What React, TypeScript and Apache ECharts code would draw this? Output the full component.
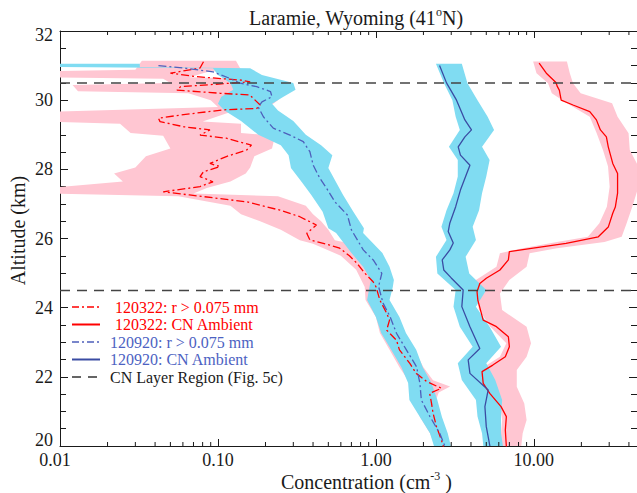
import React, { useEffect, useRef } from "react";
import * as echarts from "echarts";

// ---------- data ----------
// 120322: r > 0.075 mm (red dash-dot) centre line
const r22Alt = [31.11, 30.93, 30.78, 30.68, 30.58, 30.53, 30.39, 30.29, 30.2, 30.15, 29.86, 29.76, 29.72, 29.57, 29.48, 29.38, 29.23, 29.14, 28.99, 28.9, 28.7, 28.56, 28.37, 28.17, 28.08, 27.93, 27.79, 27.64, 27.5, 27.35, 27.26, 27.06, 26.82, 26.63, 26.39, 26.15, 25.96, 25.81, 25.72, 25.5, 25.28, 25.0, 24.75, 24.61, 24.22, 23.84, 23.64, 23.35, 23.06, 22.78, 22.39, 22.1, 21.86, 21.67, 21.52, 21.24, 20.95, 20.56, 20.17, 19.98];
const r22Val = [0.081, 0.077, 0.05, 0.073, 0.14, 0.16, 0.058, 0.055, 0.103, 0.159, 0.185, 0.176, 0.108, 0.058, 0.042, 0.043, 0.061, 0.089, 0.077, 0.113, 0.163, 0.152, 0.113, 0.089, 0.103, 0.081, 0.077, 0.093, 0.077, 0.045, 0.066, 0.152, 0.247, 0.33, 0.42, 0.365, 0.382, 0.51, 0.59, 0.68, 0.76, 0.85, 0.96, 1.0, 1.06, 1.17, 1.22, 1.17, 1.35, 1.41, 1.64, 1.8, 2.1, 2.6, 2.19, 2.25, 2.3, 2.42, 2.6, 2.68];
// its uncertainty band
const r22BandAlt = [31.14, 30.88, 30.84, 30.66, 30.62, 30.5, 30.44, 30.26, 30.2, 30.0, 29.8, 29.66, 29.38, 29.32, 29.05, 28.97, 28.6, 28.38, 28.05, 27.88, 27.65, 27.46, 27.3, 27.22, 26.95, 26.7, 26.5, 26.25, 25.95, 25.85, 25.5, 25.1, 24.6, 24.22, 23.73, 23.27, 22.78, 22.28, 21.9, 21.72, 21.55, 21.33, 20.84, 20.37, 19.95];
const r22BandLo = [0.033, 0.03, 0.0085, 0.0085, 0.045, 0.05, 0.012, 0.013, 0.065, 0.09, 0.1, 0.0085, 0.0085, 0.024, 0.028, 0.045, 0.05, 0.035, 0.03, 0.022, 0.025, 0.0085, 0.0085, 0.056, 0.12, 0.14, 0.185, 0.25, 0.33, 0.4, 0.6, 0.75, 0.85, 0.86, 1.0, 1.06, 1.22, 1.41, 1.6, 1.7, 1.75, 1.82, 1.9, 2.2, 2.4];
const r22BandHi = [0.13, 0.14, 0.09, 0.066, 0.16, 0.17, 0.17, 0.17, 0.26, 0.24, 0.21, 0.12, 0.08, 0.14, 0.14, 0.23, 0.22, 0.17, 0.16, 0.15, 0.12, 0.085, 0.07, 0.24, 0.36, 0.4, 0.45, 0.5, 0.55, 0.7, 0.82, 1.04, 1.12, 1.17, 1.35, 1.5, 1.75, 2.0, 2.3, 2.95, 2.5, 2.4, 2.5, 2.75, 2.95];

// 120322: CN Ambient (red solid)
const c22Alt = [31.07, 30.78, 30.51, 30.39, 30.29, 30.0, 29.86, 29.67, 29.43, 29.14, 28.94, 28.65, 28.17, 27.88, 27.31, 26.91, 26.73, 26.33, 26.05, 25.86, 25.72, 25.62, 25.38, 25.09, 24.85, 24.7, 24.46, 24.22, 23.64, 23.45, 23.16, 22.87, 22.58, 22.34, 22.15, 21.81, 21.52, 21.14, 20.85, 20.46, 19.98];
const c22Val = [10.8, 12.0, 13.8, 14.1, 14.5, 14.9, 17.7, 22.6, 24.9, 26.4, 28.8, 29.6, 31.6, 33.9, 33.9, 32.8, 31.6, 29.6, 25.6, 16.0, 9.9, 7.0, 6.9, 6.1, 5.0, 4.55, 4.37, 4.42, 4.78, 5.8, 6.9, 7.0, 6.6, 5.5, 4.7, 4.78, 5.26, 6.2, 6.7, 6.6, 6.7];
const c22BandAlt = [31.12, 30.78, 30.49, 30.2, 29.91, 29.52, 29.04, 28.56, 28.08, 27.5, 26.92, 26.44, 26.05, 25.9, 25.72, 25.57, 25.18, 24.8, 24.41, 23.93, 23.45, 22.97, 22.58, 22.2, 21.71, 21.23, 20.75, 20.37, 19.95];
const c22BandLo = [9.9, 10.4, 12.3, 13.0, 16.2, 22.6, 25.0, 27.4, 29.5, 30.2, 29.0, 26.0, 22.0, 14.0, 8.5, 6.1, 5.8, 4.3, 4.3, 4.5, 5.3, 6.7, 6.1, 4.5, 5.0, 6.1, 6.3, 6.2, 6.2];
const c22BandHi = [16.2, 16.9, 17.7, 19.8, 31.3, 33.9, 39.8, 40.5, 46, 46, 42, 38.7, 36, 28, 14, 9.4, 9.0, 7.0, 6.1, 6.3, 9.0, 9.6, 9.0, 7.8, 7.8, 8.7, 9.0, 8.5, 8.3];

// 120920: r > 0.075 mm (blue dash-dot)
const r20Alt = [31.0, 30.92, 30.82, 30.63, 30.49, 30.39, 30.25, 30.1, 29.95, 29.8, 29.52, 29.19, 28.99, 28.8, 28.51, 28.12, 27.74, 27.45, 27.06, 26.68, 26.25, 25.67, 25.38, 24.99, 24.61, 24.13, 23.74, 23.26, 22.78, 22.29, 21.81, 21.33, 20.85, 20.36, 20.0];
const r20Val = [0.042, 0.063, 0.093, 0.119, 0.138, 0.176, 0.215, 0.22, 0.19, 0.18, 0.194, 0.224, 0.286, 0.347, 0.382, 0.401, 0.442, 0.488, 0.55, 0.66, 0.7, 0.832, 0.962, 1.09, 1.04, 1.11, 1.23, 1.35, 1.56, 1.81, 1.9, 1.94, 2.2, 2.54, 2.73];
const r20BandAlt = [31.05, 30.96, 30.92, 30.73, 30.5, 30.3, 30.1, 29.9, 29.7, 29.4, 29.0, 28.7, 28.41, 28.04, 27.63, 27.26, 26.77, 26.3, 26.16, 25.58, 25.18, 24.8, 24.6, 24.22, 23.73, 23.27, 22.78, 22.28, 21.82, 21.33, 20.84, 20.37, 19.95];
const r20BandLo = [0.0085, 0.0085, 0.093, 0.1, 0.12, 0.125, 0.105, 0.1, 0.11, 0.14, 0.18, 0.25, 0.28, 0.29, 0.34, 0.39, 0.46, 0.5, 0.56, 0.7, 0.83, 0.93, 0.91, 0.88, 1.0, 1.08, 1.25, 1.45, 1.6, 1.63, 1.9, 2.2, 2.35];
const r20BandHi = [0.032, 0.032, 0.16, 0.19, 0.3, 0.31, 0.26, 0.22, 0.24, 0.3, 0.36, 0.45, 0.53, 0.5, 0.56, 0.62, 0.72, 0.84, 0.83, 1.1, 1.22, 1.3, 1.28, 1.22, 1.41, 1.55, 1.8, 1.98, 2.25, 2.45, 2.62, 2.85, 3.0];

// 120920: CN Ambient (blue solid)
const c20Alt = [31.0, 30.5, 30.0, 29.43, 29.14, 28.94, 28.65, 28.41, 28.12, 27.88, 27.4, 26.92, 26.45, 26.2, 25.87, 25.67, 25.38, 25.09, 24.86, 24.51, 24.03, 23.45, 22.82, 22.49, 22.1, 21.62, 21.14, 20.56, 20.0];
const c20Val = [2.53, 2.8, 3.24, 3.66, 4.03, 3.66, 3.32, 3.43, 3.94, 3.76, 3.43, 3.2, 2.94, 2.87, 3.09, 2.94, 2.63, 2.69, 3.0, 3.57, 3.5, 3.94, 4.55, 3.84, 3.94, 5.14, 4.9, 5.0, 5.27];
const c20BandAlt = [31.05, 30.49, 30.0, 29.52, 29.14, 28.65, 28.27, 27.79, 27.31, 26.82, 26.34, 25.96, 25.47, 24.99, 24.51, 24.03, 23.45, 22.87, 22.39, 21.91, 21.33, 20.85, 20.37, 19.95];
const c20BandLo = [2.4, 2.7, 3.05, 3.2, 3.4, 2.9, 3.3, 3.3, 3.1, 2.8, 2.6, 2.8, 2.4, 2.45, 3.2, 3.1, 3.4, 4.1, 3.3, 3.5, 4.3, 4.4, 4.7, 4.8];
const c20BandHi = [3.5, 3.8, 4.4, 5.1, 5.6, 4.7, 5.25, 5.0, 4.7, 4.5, 4.1, 4.3, 3.7, 3.9, 5.0, 4.3, 5.25, 6.2, 5.0, 5.7, 6.3, 6.2, 6.2, 6.4];

// CN layer region boundaries (km)
const layerBounds = [30.5, 24.5];

// axes
const xMin = 0.01;
const xMax = 45;
const yMin = 20;
const yMax = 32;
const yStep = 2;
const minorXTicks = [0.02, 0.03, 0.04, 0.05, 0.06, 0.07, 0.08, 0.09, 0.2, 0.3, 0.4, 0.5, 0.6, 0.7, 0.8, 0.9, 2, 3, 4, 5, 6, 7, 8, 9, 20, 30, 40];

const legendLabels = [
  "120322: r > 0.075 mm",
  "120322: CN Ambient",
  "120920: r > 0.075 mm",
  "120920: CN Ambient",
  "CN Layer Region (Fig. 5c)",
];

// ---------- styles ----------
const RED = "#ff0000";
const PINK = "#ffc6d2";
const CYAN = "#80dcf2";
const BLUE_LINE = "#3a4ca3";
const BLUE_DD = "#4d5fbb";
const BLUE_TEXT = "#4c62c2";
const DARK = "#1a1a1a";
const FONT = "Liberation Serif";
const DASHDOT = [8, 3, 2, 3];

function bandSeries(alt: number[], lo: number[], hi: number[], color: string) {
  return {
    type: "custom",
    coordinateSystem: "cartesian2d",
    clip: true,
    silent: true,
    z: 1,
    data: alt.map((a, i) => [lo[i], a, hi[i]]),
    encode: { x: [0, 2], y: 1 },
    renderItem: (params: any, api: any) => {
      if (params.dataIndex !== 0) return null;
      const left = alt.map((a, i) => api.coord([lo[i], a]));
      const right = alt.map((a, i) => api.coord([hi[i], a])).reverse();
      return {
        type: "polygon",
        shape: { points: left.concat(right) },
        style: { fill: color, stroke: null },
      };
    },
  };
}

function lineSeries(alt: number[], val: number[], color: string, dash: any, width: number) {
  return {
    type: "line",
    data: alt.map((a, i) => [val[i], a]),
    symbol: "none",
    showSymbol: false,
    clip: true,
    silent: true,
    z: 3,
    lineStyle: { color, width, type: dash },
  };
}

function isPow10(v: number) {
  const l = Math.log10(v);
  return Math.abs(l - Math.round(l)) < 1e-6;
}

export default function App() {
  const ref = useRef<HTMLDivElement>(null);

  useEffect(() => {
    if (!ref.current) return;
    const chart = echarts.init(ref.current, undefined, { renderer: "svg" });

    const legendY = [307, 324.5, 342, 359.5, 377];
    const legendColors = [RED, RED, BLUE_DD, BLUE_LINE, "#333"];
    const legendText = [RED, RED, BLUE_TEXT, BLUE_TEXT, DARK];
    const legendDash: any[] = [[7, 3, 2, 3], null, [7, 3, 2, 3], null, [9, 7]];
    const legendTextX = [115, 115, 110, 110, 110];
    const graphics: any[] = [];
    legendLabels.forEach((label, i) => {
      graphics.push({
        type: "line",
        silent: true,
        shape: { x1: 72, y1: legendY[i], x2: 100, y2: legendY[i] },
        style: { stroke: legendColors[i], lineWidth: i === 1 || i === 3 ? 2 : 1.5, lineDash: legendDash[i] },
        z: 10,
      });
      graphics.push({
        type: "text",
        silent: true,
        x: legendTextX[i],
        y: legendY[i],
        style: {
          text: label,
          fill: legendText[i],
          fontSize: 16,
          fontFamily: FONT,
          align: "left",
          verticalAlign: "middle",
        },
        z: 10,
      });
    });

    const axisLineStyle = { color: DARK, width: 1 };
    const labelStyle = { fontSize: 18, fontFamily: FONT, color: DARK };

    const option: any = {
      animation: false,
      backgroundColor: "#ffffff",
      title: {
        text: "Laramie, Wyoming (41{sup|o}N)",
        left: 351,
        top: 1,
        textAlign: "center",
        textStyle: {
          fontFamily: FONT,
          fontSize: 20,
          fontWeight: "normal",
          color: DARK,
          lineHeight: 24,
          rich: {
            sup: { fontFamily: FONT, fontSize: 12, color: DARK, verticalAlign: "top", lineHeight: 13 },
          },
        },
      },
      grid: { left: 60, right: 0, top: 31, bottom: 47, containLabel: false, outerBoundsMode: "none" },
      xAxis: [
        {
          type: "log",
          logBase: 10,
          min: xMin,
          max: xMax,
          position: "bottom",
          name: "Concentration (cm{sup|-3} )",
          nameLocation: "middle",
          nameGap: 24,
          nameMoveOverlap: false,
          nameTextStyle: {
            fontFamily: FONT,
            fontSize: 20,
            color: DARK,
            padding: [0, 0, 0, 36],
            lineHeight: 24,
            rich: { sup: { fontFamily: FONT, fontSize: 12, color: DARK, verticalAlign: "top", lineHeight: 14 } },
          },
          axisLine: { show: true, onZero: false, lineStyle: axisLineStyle },
          axisTick: { show: true, inside: true, length: 7, lineStyle: axisLineStyle },
          minorTick: { show: false },
          splitLine: { show: false },
          axisLabel: {
            ...labelStyle,
            margin: 5,
            formatter: (v: number) => {
              if (!isPow10(v)) return "";
              const s = Number(v).toFixed(2);
              return Math.abs(v - xMin) < 1e-9 ? "{first|" + s + "}" : s;
            },
            rich: { first: { ...labelStyle, padding: [0, 10, 0, 0] } },
          },
        },
        {
          type: "log",
          logBase: 10,
          min: xMin,
          max: xMax,
          position: "top",
          axisLine: { show: true, onZero: false, lineStyle: axisLineStyle },
          axisTick: { show: true, inside: true, length: 7, lineStyle: axisLineStyle },
          splitLine: { show: false },
          axisLabel: { show: false },
        },
      ],
      yAxis: [
        {
          type: "value",
          min: yMin,
          max: yMax,
          interval: yStep,
          position: "left",
          name: "Altitude (km)",
          nameLocation: "middle",
          nameGap: 32,
          nameMoveOverlap: false,
          nameTextStyle: { fontFamily: FONT, fontSize: 20, color: DARK, padding: [0, 0, 0, 16] },
          axisLine: { show: true, onZero: false, lineStyle: axisLineStyle },
          axisTick: { show: true, inside: true, length: 8, lineStyle: axisLineStyle },
          minorTick: { show: true, splitNumber: 4, length: 6, lineStyle: axisLineStyle },
          splitLine: { show: false },
          axisLabel: {
            ...labelStyle,
            margin: 7,
            formatter: (v: number) => {
              if (v === yMin) return "{lo|" + v + "}";
              if (v === yMax) return "{hi|" + v + "}";
              return String(v);
            },
            rich: {
              lo: { ...labelStyle, padding: [0, 0, 12, 0] },
              hi: { ...labelStyle, padding: [8, 0, 0, 0] },
            },
          },
        },
        {
          type: "value",
          min: yMin,
          max: yMax,
          interval: yStep,
          position: "right",
          axisLine: { show: true, onZero: false, lineStyle: axisLineStyle },
          axisTick: { show: true, inside: true, length: 8, lineStyle: axisLineStyle },
          minorTick: { show: true, splitNumber: 4, length: 6, lineStyle: axisLineStyle },
          splitLine: { show: false },
          axisLabel: { show: false },
        },
      ],
      graphic: graphics,
      series: [
        bandSeries(r22BandAlt, r22BandLo, r22BandHi, PINK),
        bandSeries(c22BandAlt, c22BandLo, c22BandHi, PINK),
        bandSeries(r20BandAlt, r20BandLo, r20BandHi, CYAN),
        bandSeries(c20BandAlt, c20BandLo, c20BandHi, CYAN),
        lineSeries(r22Alt, r22Val, RED, DASHDOT, 1.3),
        lineSeries(c22Alt, c22Val, RED, "solid", 1.3),
        lineSeries(r20Alt, r20Val, BLUE_DD, DASHDOT, 1.3),
        lineSeries(c20Alt, c20Val, BLUE_LINE, "solid", 1.3),
        ...layerBounds.map((b) => ({
          type: "line",
          data: [
            [xMin, b],
            [xMax, b],
          ],
          symbol: "none",
          silent: true,
          z: 4,
          lineStyle: { color: "#444", width: 1.5, type: [10, 7] },
        })),
        {
          type: "custom",
          coordinateSystem: "cartesian2d",
          clip: false,
          silent: true,
          z: 5,
          data: minorXTicks.map((v) => [v, yMin]),
          encode: { x: 0, y: 1 },
          renderItem: (params: any, api: any) => {
            const v = api.value(0);
            const b = api.coord([v, yMin]);
            const t = api.coord([v, yMax]);
            return {
              type: "group",
              children: [
                { type: "line", shape: { x1: b[0], y1: b[1], x2: b[0], y2: b[1] - 4 }, style: { stroke: DARK, lineWidth: 1 } },
                { type: "line", shape: { x1: t[0], y1: t[1], x2: t[0], y2: t[1] + 4 }, style: { stroke: DARK, lineWidth: 1 } },
              ],
            };
          },
        },
      ],
    };

    chart.setOption(option);
    return () => {
      chart.dispose();
    };
  }, []);

  return (
    <div
      ref={ref}
      style={{ position: "absolute", left: 0, top: 0, width: 637, height: 493 }}
    />
  );
}
